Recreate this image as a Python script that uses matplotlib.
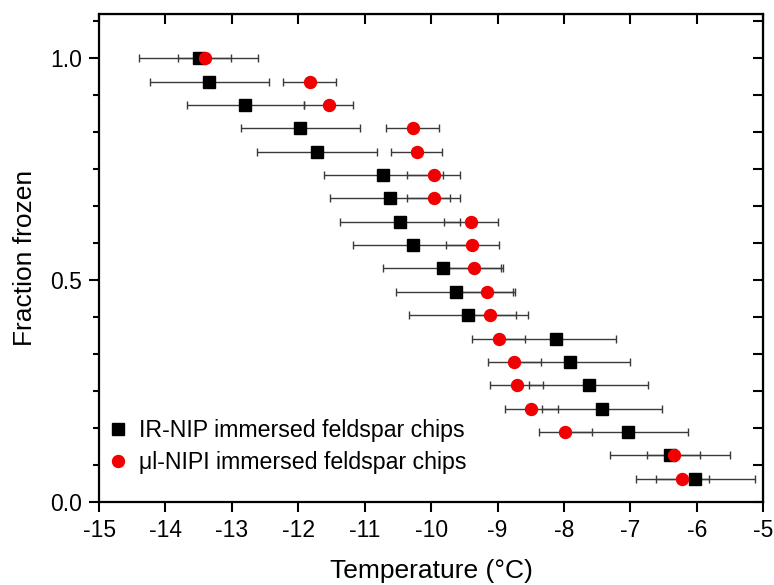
import numpy as np
import matplotlib
matplotlib.use("Agg")
import matplotlib.pyplot as plt
from matplotlib.ticker import MultipleLocator

plt.rcParams["font.family"] = ["Liberation Sans", "DejaVu Sans"]
plt.rcParams["axes.unicode_minus"] = False

# fraction frozen levels (19 droplets/chips)
frac = [k / 19 for k in range(19, 0, -1)]

# IR-NIP immersed feldspar chips
irnip_T = [-13.50, -13.34, -12.80, -11.97, -11.72, -10.72, -10.62, -10.47, -10.28, -9.82,
           -9.63, -9.44, -8.12, -7.91, -7.63, -7.43, -7.03, -6.40, -6.02]
irnip_err = [0.90, 0.90, 0.88, 0.90, 0.90, 0.90, 0.90, 0.90, 0.90, 0.90,
             0.90, 0.90, 0.90, 0.90, 0.90, 0.90, 0.90, 0.90, 0.90]

# ul-NIPI immersed feldspar chips
unipi_T = [-13.41, -11.83, -11.54, -10.28, -10.22, -9.96, -9.96, -9.40, -9.38, -9.35,
           -9.16, -9.12, -8.98, -8.75, -8.71, -8.49, -7.98, -6.35, -6.22]
unipi_err = [0.40, 0.40, 0.37, 0.40, 0.39, 0.40, 0.40, 0.40, 0.40, 0.40,
             0.40, 0.40, 0.40, 0.40, 0.40, 0.40, 0.40, 0.40, 0.40]

fig = plt.figure(figsize=(7.74, 5.85), dpi=100)
ax = fig.add_axes([0.128, 0.142, 0.858, 0.834])

ebkw = dict(fmt="none", ecolor="#3a3a3a", elinewidth=1.0, capsize=3.2, capthick=1.0)
ax.errorbar(irnip_T, frac, xerr=irnip_err, zorder=2, **ebkw)
ax.errorbar(unipi_T, frac, xerr=unipi_err, zorder=2, **ebkw)
ax.plot(irnip_T, frac, "s", color="black", ms=8, mec="black", zorder=3,
        label="IR-NIP immersed feldspar chips")
ax.plot(unipi_T, frac, "o", color="#f00000", ms=8.6, mec="#f00000", zorder=4,
        label="\u03bcl-NIPI immersed feldspar chips")

ax.set_xlim(-15, -5)
ax.set_ylim(0, 1.1)
ax.xaxis.set_major_locator(MultipleLocator(1))
ax.yaxis.set_major_locator(MultipleLocator(0.5))
ax.yaxis.set_minor_locator(MultipleLocator(0.5 / 6))
ax.yaxis.set_major_formatter(matplotlib.ticker.FormatStrFormatter("%.1f"))

for s in ax.spines.values():
    s.set_linewidth(1.6)
ax.tick_params(axis="both", which="major", direction="out", length=7.5, width=1.5,
               labelsize=16.5, pad=5)
ax.tick_params(axis="y", which="minor", direction="out", length=4.5, width=1.5)

top = ax.secondary_xaxis("top")
top.xaxis.set_major_locator(MultipleLocator(1))
top.tick_params(direction="in", length=7.5, width=1.5, labeltop=False)
right = ax.secondary_yaxis("right")
right.yaxis.set_major_locator(MultipleLocator(0.5))
right.yaxis.set_minor_locator(MultipleLocator(0.5 / 6))
right.tick_params(which="both", direction="in", length=7.5, width=1.5, labelright=False)

ax.set_xlabel("Temperature (\u00b0C)", fontsize=19, labelpad=12)
ax.set_ylabel("Fraction frozen", fontsize=19, labelpad=9)

ax.legend(loc="lower left", bbox_to_anchor=(0.0, 0.043), frameon=False, fontsize=16.7,
          handlelength=1.0, handletextpad=0.4, borderpad=0.3, labelspacing=0.38,
          borderaxespad=0.0)

fig.savefig("out.png", dpi=100)
